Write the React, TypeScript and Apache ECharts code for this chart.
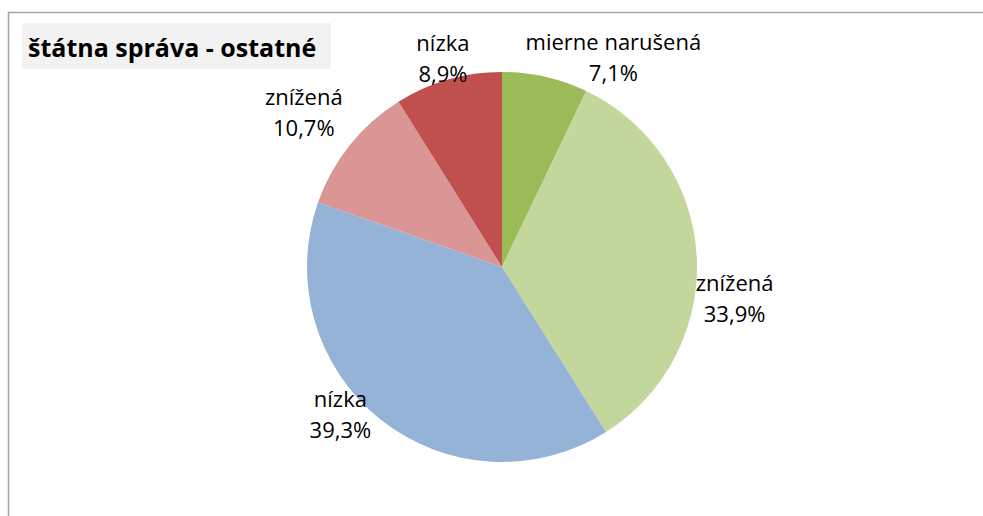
import React, { useEffect, useRef } from "react";
import * as echarts from "echarts";

const title = "štátna správa - ostatné";
const categories = ["mierne narušená", "znížená", "nízka", "znížená", "nízka"];
const values = [7.1, 33.9, 39.3, 10.7, 8.9];
const colors = ["#9BBB59", "#C3D69B", "#95B3D7", "#D99694", "#C0504D"];

// label placement tweaks (px) relative to a point on the slice's mid-angle
const LABEL_DIST = 232;
const labelNudge: [number, number][] = [
  [60, 16],
  [1, 44],
  [-17, -35],
  [-17, -11],
  [5, 13],
];

const CX = 502;
const CY = 267;
const R = 195;

export default function App() {
  const ref = useRef<HTMLDivElement>(null);
  useEffect(() => {
    if (!ref.current) return;
    const chart = echarts.init(ref.current, null, { renderer: "svg" });
    const total = values.reduce((a, b) => a + b, 0);
    const mids: number[] = [];
    let acc = 0;
    values.forEach((v) => {
      mids.push(((acc + v / 2) / total) * Math.PI * 2);
      acc += v;
    });
    chart.setOption({
      animation: false,
      backgroundColor: "#ffffff",
      graphic: [
        {
          type: "rect",
          shape: { x: 8.5, y: 12.5, width: 1200, height: 800 },
          style: { fill: "none", stroke: "#A6A6A6", lineWidth: 1.5 },
          silent: true,
        },
        {
          type: "rect",
          shape: { x: 22, y: 23, width: 309, height: 46 },
          style: { fill: "#F2F2F2" },
          silent: true,
        },
        {
          type: "text",
          x: 28,
          y: 47,
          style: {
            text: title,
            font: "bold 25px 'Open Sans'",
            fill: "#000000",
            verticalAlign: "middle",
            align: "left",
          },
          silent: true,
        },
      ],
      series: [
        {
          type: "pie",
          center: [CX, CY],
          radius: R,
          startAngle: 90,
          clockwise: true,
          data: categories.map((c, i) => ({
            name: c,
            value: values[i],
            itemStyle: { color: colors[i] },
          })),
          itemStyle: { borderWidth: 0 },
          labelLine: { show: false },
          label: {
            show: true,
            position: "outside",
            formatter: (p: any) =>
              p.name + "\n" + Number(p.value).toFixed(1).replace(".", ",") + "%",
            fontFamily: "Open Sans",
            fontSize: 22,
            lineHeight: 31,
            color: "#000000",
            align: "center",
          },
          labelLayout: (params: any) => {
            const i = params.dataIndex;
            const a = mids[i];
            const ux = Math.sin(a);
            const uy = -Math.cos(a);
            return {
              x: CX + ux * LABEL_DIST + labelNudge[i][0],
              y: CY + uy * LABEL_DIST + labelNudge[i][1],
              align: "center",
              verticalAlign: "middle",
            };
          },
        },
      ],
    });
    return () => chart.dispose();
  }, []);
  return (
    <div
      ref={ref}
      style={{ position: "fixed", left: 0, top: 0, width: 983, height: 516 }}
    />
  );
}
